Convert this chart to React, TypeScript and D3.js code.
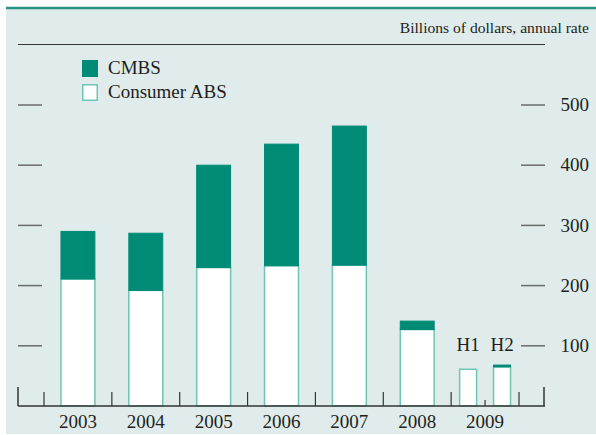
import * as d3 from "d3";

// categories and values
const years = ["2003", "2004", "2005", "2006", "2007", "2008", "2009"];
const periods = ["2003", "2004", "2005", "2006", "2007", "2008", "H1", "H2"];
const halves = ["H1", "H2"];
const consumerABS = [211, 192, 230, 233, 234, 127, 61, 65];
const cmbs = [79, 95, 170, 202, 231, 14, 0, 3];
const yTicks = [100, 200, 300, 400, 500];

const W = 596;
const H = 435;
const teal = "#008b76";
const tealLight = "#6fc4b3";
const bg = "#dfeceb";
const ink = "#231f20";
const font = "'Liberation Serif', 'Times New Roman', serif";

const App = () => {
  const x = d3.scaleBand().domain(years).range([44, 519]);
  const bw = x.bandwidth();
  const xHalf = d3
    .scaleBand()
    .domain(halves)
    .range([x("2009")!, x("2009")! + bw]);
  const hw = xHalf.bandwidth();
  const y = d3.scaleLinear().domain([0, 500]).range([406, 105]);

  // bar geometry per period
  const bars = periods.map((p, i) => {
    const isHalf = halves.includes(p);
    const left = isHalf ? xHalf(p)! + hw * 0.25 : x(p)! + bw * 0.25;
    const width = isHalf ? hw * 0.5 : bw * 0.5;
    return { p, left, width, abs: consumerABS[i], cm: cmbs[i] };
  });

  const catTicks = years.map((yr) => x(yr)!).concat([x("2009")! + bw]);

  return (
    <svg
      width={W}
      height={H}
      style={{ position: "absolute", left: 0, top: 0, display: "block" }}
      fontFamily={font}
    >
      <rect x={6} y={8} width={W - 6} height={H - 9} fill={bg} />
      <line x1={6} x2={W} y1={8} y2={8} stroke="#2b9484" strokeWidth={2.5} />

      {/* units title */}
      <text x={589} y={33} textAnchor="end" fontSize={15.6} fill={ink}>
        Billions of dollars, annual rate
      </text>
      <line x1={18} x2={545} y1={44.5} y2={44.5} stroke="#333" strokeWidth={1} />

      {/* legend */}
      <rect x={82} y={60} width={16} height={17} fill={teal} />
      <text x={108} y={74} fontSize={19} fill={ink}>CMBS</text>
      <rect x={82.75} y={84.75} width={14.5} height={15.5} fill="#fff" stroke={tealLight} strokeWidth={1.5} />
      <text x={108} y={98} fontSize={19} fill={ink}>Consumer ABS</text>

      {/* y ticks both sides */}
      {yTicks.map((t) => (
        <g key={t}>
          <line x1={18} x2={42} y1={y(t)} y2={y(t)} stroke="#6b6b6b" strokeWidth={1.5} />
          <line x1={521} x2={545} y1={y(t)} y2={y(t)} stroke="#6b6b6b" strokeWidth={1.5} />
          <text x={589} y={y(t)} dy="0.33em" textAnchor="end" fontSize={19} fill={ink}>
            {t}
          </text>
        </g>
      ))}

      {/* bars */}
      {bars.map((b) => (
        <g key={b.p}>
          <rect
            x={b.left}
            y={y(b.abs)}
            width={b.width}
            height={y(0) - y(b.abs)}
            fill="#fff"
            stroke={tealLight}
            strokeWidth={1.5}
          />
          {b.cm > 0 && (
            <rect
              x={b.left}
              y={y(b.abs + b.cm)}
              width={b.width}
              height={y(b.abs) - y(b.abs + b.cm)}
              fill={teal}
              stroke={teal}
              strokeWidth={1}
            />
          )}
        </g>
      ))}

      {/* x axis */}
      <line x1={18} x2={545} y1={406} y2={406} stroke="#333" strokeWidth={1.5} />
      <line x1={18} x2={18} y1={387} y2={406} stroke="#333" strokeWidth={1.5} />
      <line x1={544} x2={544} y1={387} y2={406} stroke="#333" strokeWidth={1.5} />
      {catTicks.map((cx, i) => (
        <line key={i} x1={cx} x2={cx} y1={392} y2={406} stroke="#333" strokeWidth={1.2} />
      ))}
      <line
        x1={xHalf("H2")!}
        x2={xHalf("H2")!}
        y1={400}
        y2={406}
        stroke="#333"
        strokeWidth={1.2}
      />

      {years.map((yr) => (
        <text key={yr} x={x(yr)! + bw / 2} y={428} textAnchor="middle" fontSize={19} fill={ink}>
          {yr}
        </text>
      ))}
      {halves.map((h) => (
        <text key={h} x={xHalf(h)! + hw / 2} y={351} textAnchor="middle" fontSize={19} fill={ink}>
          {h}
        </text>
      ))}
    </svg>
  );
};

export default App;
